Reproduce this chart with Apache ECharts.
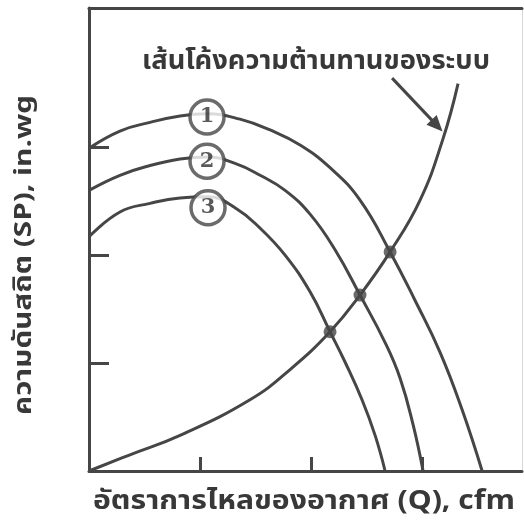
<!DOCTYPE html>
<html>
<head>
<meta charset="utf-8">
<script src="https://cdn.jsdelivr.net/npm/echarts@6/dist/echarts.min.js"></script>
<style>
  html, body { margin: 0; padding: 0; background: #ffffff; }
  #chart { width: 524px; height: 531px; }
</style>
</head>
<body>
<div id="chart"></div>
<script>
// Fan performance curves (static pressure vs. air flow) and the system resistance curve.
const fanCurve1 = [[0, 2.99], [0.279, 3.15], [0.550, 3.23], [0.820, 3.29], [1.063, 3.31], [1.360, 3.26],
  [1.631, 3.16], [1.901, 3.02], [2.171, 2.81], [2.441, 2.51], [2.712, 2.03], [2.937, 1.58],
  [3.162, 1.10], [3.360, 0.57], [3.541, 0]];
const fanCurve2 = [[0, 2.60], [0.279, 2.74], [0.550, 2.83], [0.820, 2.89], [1.063, 2.91], [1.315, 2.85],
  [1.541, 2.74], [1.766, 2.60], [1.991, 2.38], [2.216, 2.05], [2.441, 1.63], [2.667, 1.19],
  [2.802, 0.86], [2.919, 0.43], [3.009, 0]];
const fanCurve3 = [[0, 2.17], [0.279, 2.40], [0.550, 2.48], [0.820, 2.53], [1.072, 2.54], [1.315, 2.44],
  [1.541, 2.25], [1.766, 2.00], [1.991, 1.66], [2.171, 1.29], [2.306, 1.01], [2.459, 0.66],
  [2.577, 0.33], [2.667, 0]];
const systemCurve = [[0, 0], [0.369, 0.15], [0.820, 0.33], [1.450, 0.66], [1.811, 0.94], [2.171, 1.29],
  [2.441, 1.63], [2.712, 2.03], [2.982, 2.51], [3.189, 3.08], [3.324, 3.59]];
// operating points where the system curve crosses each fan curve
const operatingPoints = [[2.171, 1.29], [2.441, 1.63], [2.712, 2.03]];
// circled curve numbers
const curveTags = [[1.063, 3.28, '1'], [1.063, 2.87, '2'], [1.072, 2.44, '3']];
// arrow pointing from the caption to the system curve
const arrowFrom = [2.730, 3.64];
const arrowTo = [3.135, 3.20];
const tickValuesX = [1, 2, 3];
const tickValuesY = [1, 2, 3];

const captionText = 'เส้นโค้งความต้านทานของระบบ';
const xName = 'อัตราการไหลของอากาศ (Q), cfm';
const yName = 'ความดันสถิต (SP), in.wg';

const ink = '#464646';
const textInk = '#383838';
const thaiFont = '"Noto Sans Thai", "Noto Sans Thai Looped", Loma, Garuda, "DejaVu Sans", sans-serif';

// Horizontal stretch so a bold label spans the wanted length.
const measureCtx = document.createElement('canvas').getContext('2d');
function stretchFor(text, font, wantedWidth) {
  measureCtx.font = font;
  return wantedWidth / measureCtx.measureText(text).width;
}

const captionFont = 'bold 26px ' + thaiFont;
const xNameFont = 'bold 26px ' + thaiFont;
const yNameFont = 'bold 24px ' + thaiFont;

const chart = echarts.init(document.getElementById('chart'), null, { renderer: 'canvas' });

function curveSeries(data) {
  return {
    type: 'line', data: data, smooth: 0.45, symbol: 'none', clip: true,
    lineStyle: { color: ink, width: 3 }, z: 3, silent: true
  };
}

chart.setOption({
  animation: false,
  backgroundColor: '#ffffff',
  graphic: [
    {
      type: 'text', x: 316, y: 64, scaleX: stretchFor(captionText, captionFont, 348),
      style: { text: captionText, font: captionFont, fill: textInk, align: 'center', verticalAlign: 'middle' }
    },
    {
      type: 'text', x: 304, y: 504, scaleX: stretchFor(xName, xNameFont, 422),
      style: { text: xName, font: xNameFont, fill: textInk, align: 'center', verticalAlign: 'middle' }
    },
    {
      type: 'text', x: 26, y: 255, rotation: Math.PI / 2, scaleX: stretchFor(yName, yNameFont, 320),
      style: { text: yName, font: yNameFont, fill: textInk, align: 'center', verticalAlign: 'middle' }
    }
  ],
  grid: { left: 89, top: 8, right: 2, bottom: 60 },
  xAxis: [
    {
      type: 'value', min: 0, max: 3.9, position: 'bottom',
      axisLine: { show: true, onZero: false, lineStyle: { color: ink, width: 3 } },
      axisTick: { show: true, inside: true, length: 14, customValues: tickValuesX, lineStyle: { color: ink, width: 3 } },
      axisLabel: { show: false }, splitLine: { show: false }
    },
    {
      type: 'value', min: 0, max: 3.9, position: 'top',
      axisLine: { show: true, onZero: false, lineStyle: { color: ink, width: 3 } },
      axisTick: { show: false }, axisLabel: { show: false }, splitLine: { show: false }
    }
  ],
  yAxis: [
    {
      type: 'value', min: 0, max: 4.29, position: 'left',
      axisLine: { show: true, onZero: false, lineStyle: { color: ink, width: 3 } },
      axisTick: { show: true, inside: true, length: 20, customValues: tickValuesY, lineStyle: { color: ink, width: 3 } },
      axisLabel: { show: false }, splitLine: { show: false }
    },
    {
      type: 'value', min: 0, max: 4.29, position: 'right',
      axisLine: { show: true, onZero: false, lineStyle: { color: '#cfcfcf', width: 1, type: 'dotted' } },
      axisTick: { show: false }, axisLabel: { show: false }, splitLine: { show: false }
    }
  ],
  series: [
    curveSeries(fanCurve1),
    curveSeries(fanCurve2),
    curveSeries(fanCurve3),
    Object.assign(curveSeries(systemCurve), {
      markLine: {
        silent: true, animation: false,
        symbol: ['none', 'triangle'], symbolSize: [14, 16],
        lineStyle: { color: ink, width: 3, type: 'solid' },
        label: { show: false },
        data: [[{ coord: arrowFrom }, { coord: arrowTo }]]
      }
    }),
    {
      type: 'scatter', data: operatingPoints, symbol: 'circle', symbolSize: 13,
      itemStyle: { color: ink }, z: 4, silent: true
    },
    {
      type: 'scatter', data: curveTags, symbol: 'circle', symbolSize: 34,
      itemStyle: { color: '#ffffff', borderColor: ink, borderWidth: 3.5 },
      label: {
        show: true, position: 'inside', formatter: p => p.data[2],
        fontFamily: '"DejaVu Serif", serif', fontSize: 21, fontWeight: 'bold', color: '#303030'
      },
      z: 5, silent: true
    }
  ]
});
</script>
</body>
</html>
